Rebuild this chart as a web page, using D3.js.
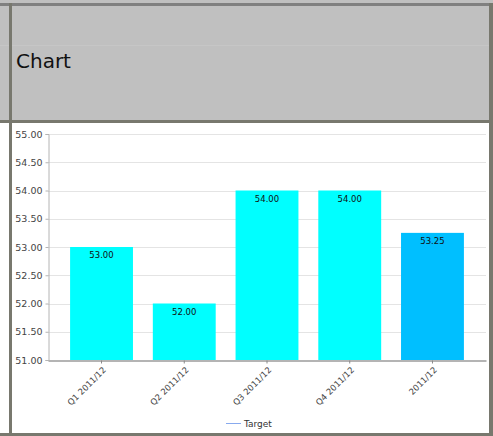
<!DOCTYPE html>
<html>
<head>
<meta charset="utf-8">
<script src="https://cdn.jsdelivr.net/npm/d3@7"></script>
<style>
  body { margin: 0; background: #fff; }
  svg { display: block; }
</style>
</head>
<body>
<div id="chart"></div>
<script>
const categories = ["Q1 2011/12", "Q2 2011/12", "Q3 2011/12", "Q4 2011/12", "2011/12"];
const values = [53.0, 52.0, 54.0, 54.0, 53.25];
const barColors = ["#00ffff", "#00ffff", "#00ffff", "#00ffff", "#00bfff"];
const yTicks = [51.0, 51.5, 52.0, 52.5, 53.0, 53.5, 54.0, 54.5, 55.0];
const legendItems = ["Target"];

const w = 493;
const h = 436;
const frameColor = "#78786e";

const svg = d3.select("#chart")
  .append("svg")
  .attr("width", w)
  .attr("height", h);

// header panel
svg.append("rect")
  .attr("x", 0).attr("y", 0)
  .attr("width", w).attr("height", 122)
  .attr("fill", "#c0c0c0");
svg.append("line")
  .attr("x1", 0).attr("x2", w)
  .attr("y1", 45.5).attr("y2", 45.5)
  .attr("stroke", "#c6c6c6");
svg.append("text")
  .attr("x", 16)
  .attr("y", 68)
  .text("Chart")
  .style("font-family", "'DejaVu Sans', Verdana, sans-serif")
  .style("font-size", "20px")
  .style("fill", "#111");

// frame lines
svg.append("rect").attr("x", 0).attr("y", 3).attr("width", 491).attr("height", 3).attr("fill", "#808080");
svg.append("rect").attr("x", 0).attr("y", 120).attr("width", w).attr("height", 3).attr("fill", frameColor);
svg.append("rect").attr("x", 0).attr("y", 433).attr("width", w).attr("height", 3).attr("fill", frameColor);
svg.append("rect").attr("x", 9).attr("y", 3).attr("width", 3).attr("height", 433).attr("fill", frameColor);
svg.append("rect").attr("x", 489).attr("y", 3).attr("width", 4).attr("height", 433).attr("fill", frameColor);

// plot
const plot = { left: 48, right: 486, top: 134, bottom: 360 };

const y = d3.scaleLinear()
  .domain([51, 55])
  .range([plot.bottom, plot.top]);

const x = d3.scaleBand()
  .domain(categories)
  .range([plot.left, plot.right])
  .paddingInner(0.24)
  .paddingOuter(0.267);

const fontFamily = "'DejaVu Sans', Verdana, sans-serif";

// grid
svg.append("g")
  .selectAll("line")
  .data(yTicks)
  .join("line")
  .attr("x1", plot.left)
  .attr("x2", plot.right)
  .attr("y1", (d) => Math.round(y(d)) + 0.5)
  .attr("y2", (d) => Math.round(y(d)) + 0.5)
  .attr("stroke", "#e4e4e4");

// y axis
const yAxis = svg.append("g")
  .attr("transform", `translate(${plot.left + 0.5},0)`)
  .call(d3.axisLeft(y).tickValues(yTicks).tickFormat(d3.format(".2f")).tickSize(3).tickPadding(3));
yAxis.select(".domain").attr("stroke", "#b4b4b4");
yAxis.selectAll(".tick line").attr("stroke", "#b4b4b4");
yAxis.selectAll(".tick text")
  .style("font-family", fontFamily)
  .style("font-size", "9.5px")
  .style("fill", "#444");

// bars
svg.append("g")
  .selectAll("rect")
  .data(values)
  .join("rect")
  .attr("x", (d, i) => x(categories[i]))
  .attr("width", x.bandwidth())
  .attr("y", (d) => y(d))
  .attr("height", (d) => y(51) - y(d))
  .attr("fill", (d, i) => barColors[i]);

// value labels
svg.append("g")
  .selectAll("text")
  .data(values)
  .join("text")
  .attr("x", (d, i) => x(categories[i]) + x.bandwidth() / 2)
  .attr("y", (d) => y(d) + 11)
  .attr("text-anchor", "middle")
  .text((d) => d3.format(".2f")(d))
  .style("font-family", fontFamily)
  .style("font-size", "8.5px")
  .style("fill", "#111");

// x axis
const xAxis = svg.append("g")
  .attr("transform", `translate(0,${plot.bottom + 0.5})`)
  .call(d3.axisBottom(x).tickSize(3).tickSizeOuter(0));
xAxis.select(".domain").attr("stroke", "#b4b4b4").attr("stroke-width", 2);
xAxis.selectAll(".tick line").attr("stroke", "#888");
xAxis.selectAll(".tick text")
  .attr("text-anchor", "end")
  .attr("dy", null)
  .attr("y", 0)
  .attr("transform", "translate(5,10) rotate(-45)")
  .style("font-family", fontFamily)
  .style("font-size", "8.5px")
  .style("fill", "#444");

// legend
const legend = svg.append("g").attr("transform", "translate(226,423)");
legend.append("line")
  .attr("x1", 0).attr("x2", 15)
  .attr("y1", 0.5).attr("y2", 0.5)
  .attr("stroke", "#88aaee")
  .attr("stroke-width", 1);
legend.append("text")
  .attr("x", 18)
  .attr("y", 3.5)
  .text(legendItems[0])
  .style("font-family", fontFamily)
  .style("font-size", "9px")
  .style("fill", "#333");
</script>
</body>
</html>
